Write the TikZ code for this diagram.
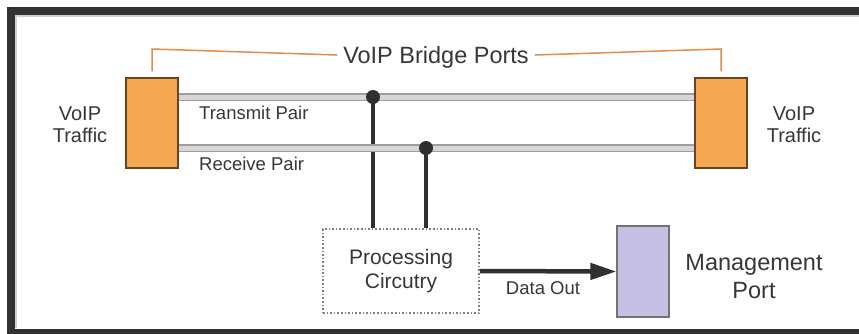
\documentclass[tikz,border=0pt]{standalone}
\usepackage{fontspec}
\setmainfont{Liberation Sans}
\usetikzlibrary{arrows.meta}
\definecolor{framegray}{RGB}{50,50,50}
\definecolor{portorange}{RGB}{246,167,82}
\definecolor{portbrown}{RGB}{105,68,35}
\definecolor{bracketorange}{RGB}{228,140,72}
\definecolor{pairgray}{RGB}{158,158,158}
\definecolor{pairlight}{RGB}{214,214,214}
\definecolor{wiregray}{RGB}{48,48,48}
\definecolor{mgmtlilac}{RGB}{198,193,228}
\definecolor{textgray}{RGB}{55,55,55}

\begin{document}
\begin{tikzpicture}[x=1pt, y=-1pt,
    port/.style={draw=portbrown, fill=portorange, line width=1.2pt, minimum width=52pt, minimum height=90pt, inner sep=0pt},
    pair/.style={draw=pairgray, line width=1.1pt, double=pairlight, double distance=5pt},
    wire/.style={draw=wiregray, line width=4.5pt},
    txt/.style={text=textgray, inner sep=0pt, align=center}]

    % constants
    \def\txrow{97}
    \def\rxrow{148}

    % page and frame
    \useasboundingbox (0,0) rectangle (859,333);
    \clip (0,0) rectangle (859,333);
    \fill[white] (0,0) rectangle (859,333);
    \draw[line width=8pt, color=framegray] (880,11) -- (11,11) -- (11,333) -- (880,333);
    \draw[line width=1.5pt, color=gray!35] (880,15.8) -- (15.8,15.8) -- (15.8,328);

    % coordinate system
    \coordinate (txdot) at (373,\txrow);
    \coordinate (rxdot) at (426,\rxrow);
    \coordinate (brk) at (436,55);

    % ports
    \node[port] (lport) at (152,123) {};
    \node[port] (rport) at (721,123) {};
    \node[txt, font=\fontsize{20}{22}\selectfont] (ltraffic) at (80,125) {VoIP\\Traffic};
    \node[txt, font=\fontsize{20}{22}\selectfont] (rtraffic) at (794,125) {VoIP\\Traffic};

    % bridge bracket
    \node[txt, anchor=base, inner xsep=6pt, font=\fontsize{23.5}{27}\selectfont] (bridge) at (436,63) {VoIP Bridge Ports};
    \draw[bracketorange, line width=1.5pt] ([yshift=6pt]lport.north) -- ([yshift=6pt]lport.north |- brk) -- (brk -| bridge.west);
    \draw[bracketorange, line width=1.5pt] ([yshift=6pt]rport.north) -- ([yshift=6pt]rport.north |- brk) -- (brk -| bridge.east);

    % processing and management
    \node[draw=gray, dotted, line width=1.6pt, fill=white, minimum width=156pt, minimum height=84pt,
          txt, font=\fontsize{21}{24}\selectfont] (proc) at (401,271) {Processing\\Circutry};
    \node[draw=gray!90!black, fill=mgmtlilac, line width=1.2pt, minimum width=52pt, minimum height=91pt, inner sep=0pt] (mgmt) at (643,271.5) {};
    \node[txt, font=\fontsize{23.5}{28}\selectfont] (mgmtlabel) at (754,277) {Management\\Port};

    % taps down to the processing box
    \draw[wire] (txdot) -- (txdot |- proc.north);
    \draw[wire] (rxdot) -- (rxdot |- proc.north);

    % pairs
    \draw[pair] (lport.east |- txdot) -- (rport.west |- txdot);
    \draw[pair] (lport.east |- rxdot) -- (rport.west |- rxdot);
    \node[txt, anchor=west, font=\fontsize{18.5}{20}\selectfont] (txlabel) at (199,113) {Transmit Pair};
    \node[txt, anchor=west, font=\fontsize{18.5}{20}\selectfont] (rxlabel) at (199,164) {Receive Pair};

    % tap points
    \fill[wiregray] (txdot) circle [radius=7pt];
    \fill[wiregray] (rxdot) circle [radius=7pt];

    % data out
    \draw[wire, -{Triangle[length=26pt, width=16pt]}] (proc.east) -- (mgmt.west);
    \node[txt, font=\fontsize{18.5}{20}\selectfont] (dataout) at (543,288) {Data Out};

\end{tikzpicture}
\end{document}
